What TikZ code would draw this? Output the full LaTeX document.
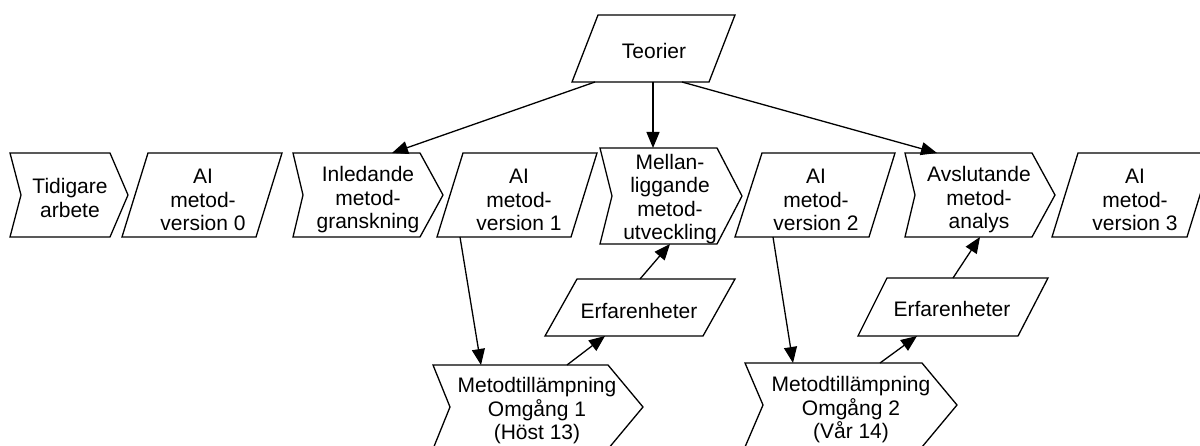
\documentclass[tikz,border=0pt]{standalone}
\usepackage{fontspec}
\setmainfont{Liberation Sans}
\usetikzlibrary{arrows.meta}
\begin{document}
\begin{tikzpicture}[x=1pt,y=-1pt,
  outline/.style={draw=black,line width=1.3pt,line join=miter,fill=white},
  lbl/.style={align=center,inner sep=0pt,font=\fontsize{21}{23.5}\selectfont},
  conn/.style={draw=black,line width=1.3pt,-{Triangle[length=16pt,width=13pt]}}]
\clip (0,0) rectangle (1200,446);
\fill[white] (0,0) rectangle (1200,446);
% top row
\draw[outline] (10,153) -- (110,153) -- (128,195) -- (110,237) -- (10,237) -- (21,195) -- cycle;
\node[lbl] (tid) at (70,198) {Tidigare\\arbete};
\draw[outline] (148,153) -- (282,153) -- (256,237) -- (122,237) -- cycle;
\node[lbl] (v0) at (203,200) {AI\\metod-\\version 0};
\draw[outline] (293,153) -- (420,153) -- (443,195) -- (420,237) -- (293,237) -- (303,195) -- cycle;
\node[lbl] (inl) at (368,200) {Inledande\\metod-\\granskning};
\draw[outline] (463,153) -- (597,153) -- (571,237) -- (437,237) -- cycle;
\node[lbl] (v1) at (519,200) {AI\\metod-\\version 1};
\draw[outline] (600,148) -- (717,148) -- (742,196) -- (717,244) -- (600,244) -- (612,196) -- cycle;
\node[lbl] (mel) at (670,199) {Mellan-\\liggande\\metod-\\utveckling};
\draw[outline] (762,153) -- (895,153) -- (869,237) -- (735,237) -- cycle;
\node[lbl] (v2) at (816,200) {AI\\metod-\\version 2};
\draw[outline] (905,153) -- (1032,153) -- (1055,195) -- (1032,237) -- (905,237) -- (915,195) -- cycle;
\node[lbl] (avs) at (979,200) {Avslutande\\metod-\\analys};
\draw[outline] (1078,153) -- (1213,153) -- (1187,237) -- (1052,237) -- cycle;
\node[lbl] (v3) at (1135,200) {AI\\metod-\\version 3};
% Teorier
\draw[outline] (598,15) -- (735,15) -- (709,82) -- (572,82) -- cycle;
\node[lbl] (teo) at (654,50.5) {Teorier};
% Erfarenheter
\draw[outline] (577,279) -- (735,279) -- (703,336) -- (545,336) -- cycle;
\node[lbl] (erf1) at (639,310.5) {Erfarenheter};
\draw[outline] (887,278) -- (1048,278) -- (1018,336) -- (858,336) -- cycle;
\node[lbl] (erf2) at (952,308.5) {Erfarenheter};
% Metodtillampning
\draw[outline] (433,365) -- (608,365) -- (643,407) -- (608,449) -- (433,449) -- (450,407) -- cycle;
\node[lbl] (met1) at (537,411) {Metodtillämpning\\Omgång 1\\(Höst 13)};
\draw[outline] (745,363) -- (922,363) -- (957,405) -- (922,447) -- (745,447) -- (763,405) -- cycle;
\node[lbl] (met2) at (851,410) {Metodtillämpning\\Omgång 2\\(Vår 14)};
% connector end points
\coordinate (teoA) at (595,82);
\coordinate (teoB) at (653,82);
\coordinate (teoC) at (682,82);
\coordinate (inlT) at (392,153);
\coordinate (melT) at (653,148);
\coordinate (avsT) at (937,153);
\coordinate (v1B) at (460,237);
\coordinate (met1T) at (481,365);
\coordinate (met1R) at (567,365);
\coordinate (erf1B) at (605,336);
\coordinate (erf1T) at (640,279);
\coordinate (melB) at (670,244);
\coordinate (v2B) at (773,237);
\coordinate (met2T) at (793,363);
\coordinate (met2R) at (880,363);
\coordinate (erf2B) at (917,336);
\coordinate (erf2T) at (953,278);
\coordinate (avsB) at (980,237);
\draw[conn] (teoA) -- (inlT);
\draw[conn] (teoB) -- (melT);
\draw[conn] (teoC) -- (avsT);
\draw[conn] (v1B) -- (met1T);
\draw[conn] (met1R) -- (erf1B);
\draw[conn] (erf1T) -- (melB);
\draw[conn] (v2B) -- (met2T);
\draw[conn] (met2R) -- (erf2B);
\draw[conn] (erf2T) -- (avsB);
\end{tikzpicture}
\end{document}
